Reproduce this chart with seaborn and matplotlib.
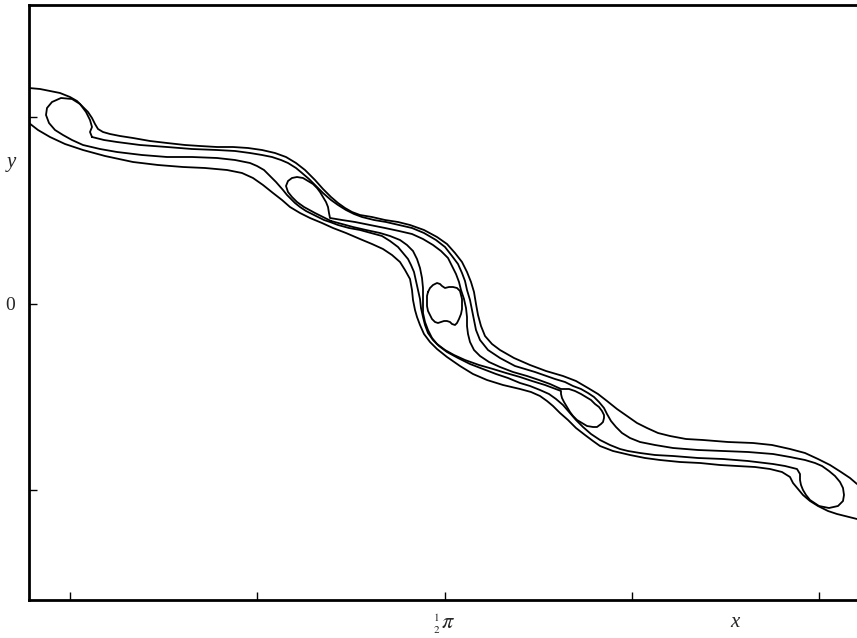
import numpy as np
import pandas as pd
import matplotlib
matplotlib.use("Agg")
import matplotlib.pyplot as plt
import seaborn as sns

outer_upper = [(29,88),(40,89),(50,91),(60,93),(70,97),(77,101),(83,107),(88,112),(92,118),(95,124),
               (98,129),(103,132),(110,134),(120,136),(133,138),(150,141),(167,143),(185,145),(200,146),
               (217,147),(233,147),(248,148),(262,150),(275,153),(286,157),(296,163),(305,170),(315,180),
               (323,189),(331,197),(338,203),(345,208),(352,212),(360,215),(372,217),(385,220),(398,222),
               (410,225),(424,230),(437,237),(447,244),(455,253),(462,262),(467,272),(471,282),(474,292),
               (476,304),(478,315),(481,326),(485,336),(492,344),(500,350),(514,358),(530,365),(546,371),
               (563,376),(576,381),(588,388),(598,394),(607,401),(617,409),(627,416),(637,423),(647,428),
               (658,433),(670,436),(686,439),(703,440),(728,442),(753,443),(772,445),(790,449),(805,453),
               (818,459),(830,465),(841,472),(850,478),(857,484)]

outer_lower = [(29,123),(38,130),(50,137),(65,144),(83,150),(105,156),(133,162),(158,165),(183,167),
               (205,168),(227,170),(242,173),(253,178),(263,185),(273,193),(282,200),(290,207),(300,213),
               (310,218),(322,223),(333,228),(346,233),(360,239),(372,244),(383,249),(392,255),(400,262),
               (405,270),(410,279),(412,290),(413,300),(415,310),(417,317),(420,325),(424,334),(430,342),
               (437,349),(447,357),(460,366),(473,374),(487,380),(503,385),(520,389),(531,392),(540,396),
               (547,401),(553,406),(560,413),(568,420),(576,428),(585,435),(593,441),(600,446),(613,451),
               (630,455),(645,458),(660,460),(680,462),(700,463),(720,465),(737,466),(755,467),(770,469),
               (782,472),(790,477),(793,483),(798,489),(803,495),(810,501),(818,506),(828,511),(837,514),
               (845,516),(857,519)]

band_loop = [(92,137),(104,140),(117,142),(140,145),(167,147),(192,149),(217,150),(235,151),(250,153),
             (262,155),(272,157),(281,160),(288,163),(296,168),(302,173),(309,179),(316,186),(323,193),
             (331,200),(338,205),(346,210),(354,214),(362,217),(374,220),(386,222),(399,225),(412,228),
             (424,233),(436,240),(445,247),(452,256),(458,264),(462,273),(465,281),(467,290),(470,300),
             (472,310),(474,320),(476,330),(480,340),(488,350),(500,358),(515,366),(535,372),(555,379),
             (565,382),(573,386),(581,389),(588,393),(594,397),(599,402),(604,408),(607,414),(611,421),
             (616,427),(622,433),(630,438),(640,442),(655,445),(673,448),(698,450),(723,451),(748,452),
             (773,454),(790,457),(805,460),(815,463),(822,466),(829,471),(835,476),(840,482),(843,488),
             (844,495),(843,501),(838,506),(829,508),(819,506),(810,500),(806,495),(803,490),(801,485),
             (800,480),(800,474),(797,469),(785,466),(773,464),(748,461),(723,459),(698,458),(673,456),
             (655,455),(640,453),(628,451),(620,449),(610,445),(600,440),(591,434),(583,427),(576,420),
             (570,413),(563,405),(556,399),(549,394),(540,390),(530,386),(520,383),(508,378),(496,374),
             (483,369),(470,364),(458,358),(447,352),(439,346),(433,340),(428,333),(425,325),(423,317),
             (421,308),(420,299),(418,290),(416,281),(414,272),(411,265),(408,259),(403,253),(398,247),
             (390,241),(382,236),(371,233),(360,230),(349,228),(338,225),(330,222),(324,220),(318,217),
             (312,214),(306,211),(300,207),(295,203),(291,199),(287,195),(283,190),(276,182),(270,176),
             (264,170),(257,166),(250,163),(235,160),(217,158),(192,157),(167,157),(142,155),(117,152),
             (100,149),(83,145),(72,140),(63,135),(55,130),(49,123),(46,115),(47,108),(52,102),(61,98),
             (72,99),(80,104),(86,112),(90,120),(92,127),(90,132),(92,137)]

neck_loop = [(331,221),(325,218),(315,213),(304,207),(297,202),(292,197),(288,192),(286,186),(288,181),
             (292,178),(297,177),(303,178),(308,181),(313,184),(317,188),(320,192),(323,197),(326,202),
             (328,207),(329,213),(330,218),(342,220),(355,222),(370,225),(385,228),(399,231),(412,234),
             (423,239),(433,245),(441,251),(448,258),(452,266),(456,274),(459,282),(461,290),(464,299),
             (466,308),(467,317),(467,326),(468,334),(470,342),(474,350),(480,356),(489,362),(500,367),
             (513,372),(527,376),(539,380),(550,384),(561,389),(569,389),(575,391),(581,394),(586,397),
             (591,400),(595,404),(599,407),(602,411),(604,415),(604,418),(603,422),(601,424),(597,427),
             (593,427),(587,426),(582,423),(577,420),(573,416),(570,412),(567,407),(564,402),(562,398),
             (561,394),(561,391),(553,388),(545,385),(532,381),(520,377),(506,373),(493,369),(479,365),
             (465,360),(454,355),(445,350),(437,344),(432,338),(428,330),(425,322),(423,313),(423,305),
             (423,296),(423,288),(422,278),(420,268),(417,259),(413,251),(407,245),(400,240),(390,236),
             (380,233),(366,230),(353,227),(342,224),(331,221)]

core_eye = [(428,292),(430,288),(433,285),(437,283),(440,284),(442,286),(445,288),(449,287),(453,287),
            (457,288),(460,291),(461,295),(462,299),(462,304),(462,309),(461,314),(459,319),(457,323),
            (455,325),(452,324),(450,322),(447,321),(444,321),(441,322),(438,323),(435,322),(432,319),
            (430,315),(428,311),(427,306),(427,301),(427,296),(428,292)]

curves = {"outer_upper": outer_upper, "outer_lower": outer_lower,
          "band_loop": band_loop, "neck_loop": neck_loop, "core_eye": core_eye}

x_ticks = [0, np.pi / 4, np.pi / 2, 3 * np.pi / 4, np.pi]
x_tick_labels = ["", "", r"$\genfrac{}{}{0}{2}{1}{2}\pi$", "", ""]
y_ticks = [-np.pi / 4, 0, np.pi / 4]
y_tick_labels = ["", "0", ""]

# scan calibration: u=70 -> x=0, u=819 -> x=pi ; v=303.5 -> y=0, 186.5 units -> pi/4
U0, UPI = 70.0, 819.0
V0, VQ = 303.5, 186.5


def to_x(u):
    return (np.asarray(u, float) - U0) / (UPI - U0) * np.pi


def to_y(v):
    return (V0 - np.asarray(v, float)) / VQ * (np.pi / 4)


rows = []
for name, pts in curves.items():
    for i, (u, v) in enumerate(pts):
        rows.append({"curve": name, "order": i, "x": float(to_x(u)), "y": float(to_y(v))})
df = pd.DataFrame(rows)

sns.set_theme(style="white")
plt.rcParams["font.family"] = ["Liberation Serif", "DejaVu Serif"]
plt.rcParams["mathtext.fontset"] = "stix"

fig = plt.figure(figsize=(8.57, 6.38), dpi=100)
ax = fig.add_axes([29 / 857, 38 / 638, 1 - 29 / 857, 595 / 638])

sns.lineplot(data=df, x="x", y="y", units="curve", estimator=None, sort=False,
             color="black", linewidth=1.3, ax=ax, legend=False)

ax.set_xlim(float(to_x(29)), float(to_x(857)))
ax.set_ylim(float(to_y(600)), float(to_y(5)))

ax.set_xticks(x_ticks)
ax.set_xticklabels(x_tick_labels, fontsize=16)
ax.set_yticks(y_ticks)
ax.set_yticklabels(y_tick_labels, fontsize=14)
ax.tick_params(axis="both", which="major", direction="in", length=6, width=1.0,
               color="black", bottom=True, left=True, top=False, right=False)
ax.tick_params(axis="x", pad=9)
ax.tick_params(axis="y", pad=10)

for side in ["left", "top", "bottom"]:
    ax.spines[side].set_visible(True)
    ax.spines[side].set_color("black")
    ax.spines[side].set_linewidth(2.0)
ax.spines["right"].set_visible(False)

ax.set_xlabel("x", fontsize=15, style="italic")
ax.xaxis.set_label_coords((735 - 29) / 828, -0.022)
ax.set_ylabel("y", fontsize=15, style="italic", rotation=0, va="center", ha="center")
ax.yaxis.set_label_coords(-0.021, (600 - 163) / 595)
ax.grid(False)
ax.set_facecolor("white")
fig.patch.set_facecolor("white")

fig.savefig("out.png", dpi=100)
